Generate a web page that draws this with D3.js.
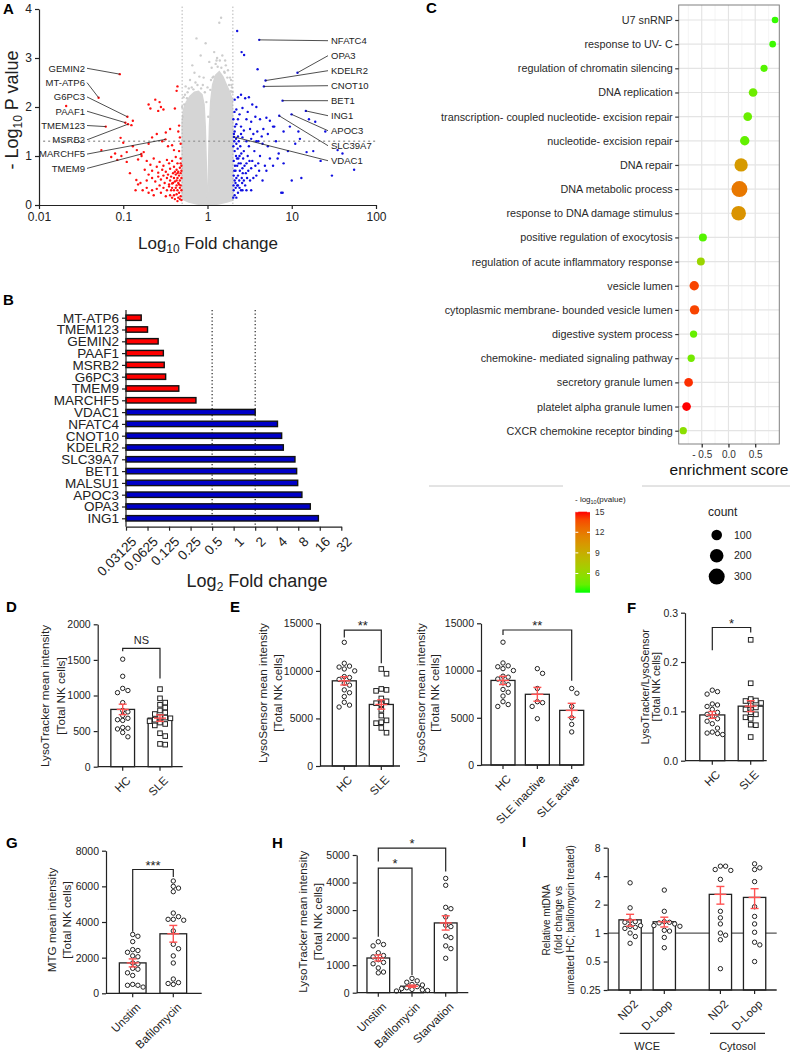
<!DOCTYPE html>
<html><head><meta charset="utf-8">
<script src="https://cdn.jsdelivr.net/npm/d3@7"></script>
<style>
body{margin:0;background:#fff;}
svg{font-family:"Liberation Sans",Arial,sans-serif;display:block;background:#fff;}
</style></head><body>
<svg id="fig" width="794" height="1053"></svg>
<script>
/* ---------- data: A volcano (fold change, -log10 p) ---------- */
var grayCloud = [[0.5,0.12],[0.5,1.0],[0.5,1.7],[0.52,1.95],[0.56,2.1],[0.62,2.22],[0.7,2.3],[0.78,2.32],[0.86,2.25],[0.91,2.05],[0.94,1.6],[0.965,0.9],[0.98,0.35],[0.99,0.08],[1.01,0.08],[1.02,0.4],[1.035,1.0],[1.055,1.6],[1.09,2.1],[1.15,2.45],[1.25,2.65],[1.38,2.72],[1.52,2.62],[1.68,2.45],[1.84,2.3],[1.97,2.15],[2.0,1.6],[2.0,0.6],[2.0,0.1],[1.7,0.06],[1.35,0.02],[1.1,0.0],[0.9,0.0],[0.75,0.02],[0.6,0.06]];
var grayPts = [[0.74,3.4],[1.45,3.82],[1.38,3.72],[0.83,3.05],[0.95,3.3],[1.2,3.12],[1.05,2.92],[1.3,3.0],[1.62,2.95],[0.7,2.7],[0.62,2.55],[0.55,2.42],[0.9,2.6],[1.75,2.75],[1.9,2.55],[0.6,2.38],[1.12,2.8],[1.5,3.05],[0.66,2.85],[0.8,2.62],[1.25,2.88],[1.6,2.7],[1.95,2.4],[0.52,2.2],[0.58,2.3],[1.85,2.6],[0.88,2.45],[0.97,2.1],[1.02,1.8],[1.4,2.95],[0.72,2.5],[1.15,2.6],[0.53,2.05],[1.98,2.3],[1.92,2.45],[0.51,1.8],
  [0.54,2.25],[0.65,2.4],[0.76,2.45],[0.84,2.38],[0.93,2.3],[1.08,2.35],[1.18,2.62],[1.32,2.82],[1.46,2.8],[1.58,2.72],[1.72,2.6],[1.8,2.45],[1.9,2.32],[0.5,2.0],[0.57,2.18],[0.68,2.36],[1.0,2.4],[1.1,2.55],[1.65,2.85],[1.28,2.95]];
var redPts = [[0.021,2.02],[0.13,1.72],[0.125,1.63],[0.093,1.37],[0.10,1.27],[0.055,1.12],[0.072,0.98],[0.08,1.05],[0.085,0.92],[0.095,1.0],[0.11,1.08],[0.13,1.2],[0.145,1.12],[0.165,1.0],[0.175,1.08],[0.15,0.93],[0.12,0.65],[0.143,0.51],[0.11,0.88],
  [0.2,2.05],[0.21,1.97],[0.24,2.15],[0.26,1.92],[0.27,2.1],[0.28,2.0],[0.3,1.95],[0.43,2.33],[0.44,2.42],[0.41,1.97],[0.46,1.62],[0.45,1.5],[0.47,1.38],[0.36,1.55],[0.32,1.48],[0.25,1.45],[0.22,1.38],[0.29,1.3],[0.2,1.25],[0.34,1.2],[0.38,1.22],[0.4,1.12],[0.48,1.25],[0.46,1.1],
  [0.19,0.9],[0.21,0.82],[0.23,0.95],[0.25,0.78],[0.27,0.88],[0.3,0.8],[0.33,0.92],[0.35,0.85],[0.38,0.9],[0.42,0.98],[0.44,0.85],[0.48,0.95],[0.18,0.72],[0.2,0.62],[0.22,0.7],[0.26,0.66],[0.29,0.72],[0.32,0.68],[0.36,0.74],[0.4,0.78],[0.43,0.72],[0.47,0.76],
  [0.16,0.45],[0.19,0.5],[0.22,0.55],[0.24,0.48],[0.26,0.58],[0.28,0.52],[0.3,0.6],[0.31,0.45],[0.33,0.55],[0.34,0.62],[0.36,0.5],[0.37,0.58],[0.38,0.44],[0.39,0.65],[0.4,0.55],[0.41,0.48],[0.42,0.62],[0.43,0.4],[0.44,0.55],[0.45,0.68],[0.45,0.45],[0.46,0.6],[0.47,0.5],[0.48,0.4],[0.49,0.55],[0.49,0.3],[0.48,0.65],[0.47,0.35],[0.46,0.25],[0.44,0.3],[0.42,0.35],[0.4,0.3],[0.38,0.35],[0.35,0.38],[0.33,0.3],[0.3,0.35],[0.27,0.4],[0.25,0.33],[0.36,0.2],[0.4,0.2],[0.43,0.22],[0.45,0.15],[0.48,0.18],[0.49,0.1],[0.47,0.12],[0.44,0.08],[0.41,0.12],[0.38,0.15],[0.32,0.18],[0.28,0.25],[0.49,0.7],[0.49,0.8],[0.48,0.85],[0.35,0.42],[0.37,0.3],[0.39,0.45],[0.43,0.5],[0.41,0.68],[0.46,0.42],[0.44,0.65],[0.14,0.3],[0.15,0.42],[0.17,0.3],[0.19,0.35],[0.2,0.25],[0.22,0.3],[0.23,0.2]];
var bluePts = [[2.25,3.55],[2.54,3.12],[2.72,3.06],[3.93,2.77],[2.1,2.15],[2.3,2.2],[2.5,2.25],[2.8,2.18],[3.1,2.2],[3.4,2.05],[3.8,2.0],[2.2,1.95],[2.6,1.98],[3.0,1.9],[2.4,1.85],[2.9,1.75],[3.3,1.7],[3.7,1.8],[4.2,1.75],[5.0,1.78],[5.5,1.72],[6.0,1.6],[4.6,1.55],[3.9,1.5],[2.2,1.65],[2.5,1.6],[2.7,1.52],[3.2,1.55],[3.5,1.45],[2.1,1.5],[2.3,1.4],[2.6,1.38],[2.9,1.3],[3.3,1.35],[4.0,1.3],[4.5,1.25],[5.2,1.2],[6.5,1.3],[8.0,1.5],[9.5,1.6],[12.0,1.5],[16.0,1.75],[19.0,1.7],[25.0,1.5],[40.0,1.05],[35.0,1.12],[15.0,1.08],[18,1.1],[22,0.9],[30,0.6],[55,0.72],[13,0.55],[10,0.5],[7.5,0.25],[8,0.85],[6.8,0.95],[9,1.1],[11,1.25],[12.5,1.35],[7,1.05],[5.5,0.95],[6,0.8],[5,0.7],
  [2.05,0.3],[2.1,0.5],[2.15,0.7],[2.05,0.9],[2.1,1.1],[2.2,1.25],[2.25,0.4],[2.3,0.6],[2.35,0.85],[2.4,1.0],[2.45,1.2],[2.5,0.3],[2.55,0.55],[2.6,0.75],[2.65,0.95],[2.7,1.1],[2.8,0.4],[2.85,0.65],[2.9,0.85],[3.0,1.0],[3.1,1.2],[3.2,0.5],[3.3,0.75],[3.4,0.9],[3.6,1.1],[3.8,0.6],[4.0,0.85],[4.2,1.0],[4.5,0.5],[4.8,0.8],[2.02,0.15],[2.1,0.2],[2.2,0.15],[2.3,0.25],[2.05,0.6],[2.12,0.8],[2.18,1.0],[2.28,1.15],[2.08,1.3],[2.15,0.45],[2.2,0.55],[2.25,0.8],[2.32,0.95],[2.38,0.5],[2.42,0.7],[2.48,0.85],[2.52,1.05],[2.58,0.45],[2.62,0.65],[2.7,0.5],[2.75,0.8],[2.95,0.55],[3.05,0.7],[3.15,0.9],[3.5,0.55],[3.7,0.8],[4.1,0.7],[2.03,1.2],[2.06,1.45],[2.12,1.6],[2.18,1.35],[2.35,1.3],[2.5,1.45],[2.04,0.4],[2.08,0.7],[2.16,0.35],[2.24,0.95],[2.3,0.4],[2.4,0.35],[2.6,0.3],[2.9,0.3],[7.8,0.25],[3.3,0.3],[4.4,1.4],[5.2,1.45],[6.2,1.6],[3.8,1.3],[2.03,1.75],[2.09,1.9],[2.3,1.75]];
// labelled genes: name, fold change, -log10 p
var labelsDown = [["GEMIN2",0.091,2.67],["MT-ATP6",0.051,2.19],["G6PC3",0.112,1.80],["PAAF1",0.106,1.68],["TMEM123",0.062,1.60],["MSRB2",0.114,1.65],["MARCHF5",0.317,1.34],["TMEM9",0.164,1.04]];
var labelsUp = [["NFATC4",4.11,3.37],["OPA3",11.7,2.70],["KDELR2",4.89,2.54],["CNOT10",4.67,2.42],["BET1",7.78,2.13],["ING1",14.7,1.92],["APOC3",9.95,1.85],["SLC39A7",7.1,1.82],["VDAC1",2.06,1.39]];
var xTicksA = [0.01,0.1,1,10,100];

/* ---------- data: B ---------- */
var genesB = ["MT-ATP6","TMEM123","GEMIN2","PAAF1","MSRB2","G6PC3","TMEM9","MARCHF5","VDAC1","NFATC4","CNOT10","KDELR2","SLC39A7","BET1","MALSU1","APOC3","OPA3","ING1"];
var foldB = [0.051,0.0625,0.088,0.104,0.107,0.112,0.171,0.297,2.0,4.1,4.69,4.95,7.2,7.6,7.86,9.0,11.8,15.3];
var xTicksB = [0.03125,0.0625,0.125,0.25,0.5,1,2,4,8,16,32];

/* ---------- data: C ---------- */
var termsC = ["U7 snRNP","response to UV- C","regulation of chromatin silencing","DNA replication","transcription- coupled nucleotide- excision repair","nucleotide- excision repair","DNA repair","DNA metabolic process","response to DNA damage stimulus","positive regulation of exocytosis","regulation of acute inflammatory response","vesicle lumen","cytoplasmic membrane- bounded vesicle lumen","digestive system process","chemokine- mediated signaling pathway","secretory granule lumen","platelet alpha granule lumen","CXCR chemokine receptor binding"];
var enrichC = [0.87,0.826,0.665,0.46,0.36,0.304,0.236,0.205,0.19,-0.478,-0.516,-0.64,-0.634,-0.652,-0.696,-0.745,-0.783,-0.845];
var logpC = [3.5,3.6,4.0,4.6,4.5,4.3,10.2,12.0,10.6,4.0,6.3,14.0,14.0,4.4,4.8,14.5,15.0,5.6];
var countC = [5,5,15,49,49,67,191,300,243,33,33,67,67,19,19,49,49,19];
var xTicksC = [-0.5,0,0.5];
var legendP = [6,9,12,15];
var legendCount = [100,200,300];

/* ---------- data: D-I ---------- */
var dHC = [1510,1270,1100,1070,1040,900,790,770,720,680,660,650,550,540,530,480,420];
var dSLE = [1090,960,900,870,830,790,760,740,700,690,680,660,640,620,600,580,470,430,320,310];
var eHC = [13000,10800,10500,10400,10200,10000,9400,9300,9100,8700,8500,8000,7700,7300,6700,6400,6200];
var eSLE = [10200,9700,8100,8000,7900,7100,6800,6600,6500,5900,5300,4800,4600,4500,4000,3500];
var eInactive = [10200,9700,8100,6700,6600,6200,4900];
var eActive = [8100,7600,6200,5000,4300,3500];
var fHC = [0.143,0.14,0.135,0.115,0.113,0.11,0.104,0.098,0.094,0.09,0.085,0.08,0.075,0.066,0.058,0.056,0.055,0.053];
var fSLE = [0.245,0.157,0.125,0.122,0.121,0.117,0.112,0.108,0.104,0.098,0.094,0.088,0.085,0.073,0.072,0.048];
var gUnstim = [3300,3200,2900,2450,2400,2300,2100,2050,1700,1650,1400,1350,1150,1000,500,450,450,350];
var gBaf = [6300,6000,5900,5700,4500,4300,4150,4150,4100,3500,2750,2500,2100,1700,800,600,550,500];
var hUnstim = [1850,1750,1700,1450,1350,1300,1200,1100,1050,900,750,720];
var hBaf = [520,430,380,300,280,220,180,150,120,100,80,60];
var hStarv = [4150,3900,3100,3050,2750,2450,2400,2050,2000,1700,1600,1250];
var iWceND2 = [3.4,1.85,1.35,1.32,1.3,1.2,1.18,1.15,1.12,1.0,0.92,0.78];
var iWceDL = [2.85,1.7,1.32,1.3,1.28,1.25,1.2,1.18,1.07,1.05,0.9,0.7];
var iCytND2 = [5.1,5.1,4.7,4.6,3.7,1.7,1.45,1.25,1.0,0.95,0.85,0.42];
var iCytDL = [5.4,4.9,4.7,3.5,1.9,1.5,1.25,1.02,0.8,0.75,0.5];

var svg = d3.select("#fig");
var ink = "#222";
var FONT = "Liberation Sans, Arial, sans-serif";

function letter(t, x, y){
    svg.append("text").attr("x",x).attr("y",y).text(t)
        .style("font-size","15px").style("font-weight","bold").style("fill","#000");
}
function styleAxis(sel, fs){
    sel.attr("font-family",FONT).attr("font-size",fs);
    sel.selectAll("path,line").style("stroke",ink).style("stroke-width",1.2);
    sel.selectAll("text").style("fill",ink);
}

/* ================= Panel A ================= */
var gA = svg.append("g");
var xA = d3.scaleLog().domain([0.01,100]).range([39,376]);
var yA = d3.scaleLinear().domain([0,4]).range([205,9]);
var lineA = d3.line().x(function(d){return xA(d[0]);}).y(function(d){return yA(d[1]);});
gA.append("path").attr("d", lineA(grayCloud)+"Z")
    .style("fill","#d5d5d5").style("stroke","#d5d5d5").style("stroke-width",1.5);
gA.selectAll(".gp").data(grayPts).join("circle")
    .attr("cx",function(d){return xA(d[0]);}).attr("cy",function(d){return yA(d[1]);})
    .attr("r",1.2).style("fill","#cdcdcd");
[0.5,2].forEach(function(v){
    gA.append("line").attr("x1",xA(v)).attr("x2",xA(v)).attr("y1",yA(4.05)).attr("y2",yA(0))
        .style("stroke","#b5b5b5").style("stroke-dasharray","1.5,2");
});
gA.append("line").attr("x1",xA(0.0112)).attr("x2",xA(98)).attr("y1",yA(1.3)).attr("y2",yA(1.3))
    .style("stroke","#a0a0a0").style("stroke-width",1.4).style("stroke-dasharray","2,3");
var allRed = redPts.concat(labelsDown.map(function(d){return [d[1],d[2]];}));
var allBlue = bluePts.concat(labelsUp.map(function(d){return [d[1],d[2]];}));
gA.selectAll(".rp").data(allRed).join("circle")
    .attr("cx",function(d){return xA(d[0]);}).attr("cy",function(d){return yA(d[1]);})
    .attr("r",1.2).style("fill","#ff1010");
gA.selectAll(".bp").data(allBlue).join("circle")
    .attr("cx",function(d){return xA(d[0]);}).attr("cy",function(d){return yA(d[1]);})
    .attr("r",1.2).style("fill","#1010e0");

gA.append("g").attr("transform","translate(39,0)")
    .call(d3.axisLeft(yA).ticks(4).tickFormat(d3.format("d")).tickSize(4).tickSizeOuter(0))
    .call(styleAxis, 12);
gA.append("g").attr("transform","translate(0,205)")
    .call(d3.axisBottom(xA).tickValues(xTicksA).tickFormat(function(d){return String(d);}).tickSize(4).tickSizeOuter(0))
    .call(styleAxis, 12);

labelsDown.forEach(function(d,i){
    var ty = 68.3 + i*14.3;
    gA.append("line").attr("x1",87).attr("y1",ty).attr("x2",xA(d[1])).attr("y2",yA(d[2]))
        .style("stroke",ink).style("stroke-width",0.8);
    gA.append("text").attr("x",85).attr("y",ty).attr("dy","0.35em").attr("text-anchor","end")
        .style("font-size","9.5px").style("fill",ink).text(d[0]);
});
labelsUp.forEach(function(d,i){
    var ty = 40.7 + i*15;
    gA.append("line").attr("x1",328).attr("y1",ty).attr("x2",xA(d[1])).attr("y2",yA(d[2]))
        .style("stroke",ink).style("stroke-width",0.8);
    gA.append("text").attr("x",331).attr("y",ty).attr("dy","0.35em")
        .style("font-size","9.5px").style("fill",ink).text(d[0]);
});
var tA = gA.append("text").attr("transform","translate(18,110) rotate(-90)").attr("text-anchor","middle")
    .style("font-size","18px").style("fill",ink);
tA.append("tspan").text("- Log");
tA.append("tspan").attr("dy",4).style("font-size","12px").text("10");
tA.append("tspan").attr("dy",-4).text(" P value");
var tAx = gA.append("text").attr("x",208).attr("y",249).attr("text-anchor","middle")
    .style("font-size","17px").style("fill",ink);
tAx.append("tspan").text("Log");
tAx.append("tspan").attr("dy",4).style("font-size","12px").text("10");
tAx.append("tspan").attr("dy",-4).text(" Fold change");
letter("A",3,14);

/* ================= Panel B ================= */
var gB = svg.append("g");
var yB = d3.scalePoint().domain(genesB).range([317.7,518.3]);
var xB = d3.scaleLog().base(2).domain([0.03125,32]).range([126,341.3]);
[0.5,2].forEach(function(v){
    gB.append("line").attr("x1",xB(v)).attr("x2",xB(v)).attr("y1",310).attr("y2",526.7)
        .style("stroke","#111").style("stroke-width",1.1).style("stroke-dasharray","1.3,2.2");
});
gB.selectAll(".bar").data(genesB).join("rect")
    .attr("x",xB(0.03125)).attr("y",function(d){return yB(d)-2.7;})
    .attr("width",function(d,i){return xB(foldB[i])-xB(0.03125);}).attr("height",5.4)
    .style("fill",function(d,i){return foldB[i]<1?"#ff0000":"#0000c8";})
    .style("stroke","#111").style("stroke-width",1.4);
var axBy = gB.append("g").attr("transform","translate(126,0)")
    .call(d3.axisLeft(yB).tickSize(4)).call(styleAxis,13.5);
axBy.select(".domain").remove();
gB.append("line").attr("x1",126).attr("x2",126).attr("y1",310).attr("y2",526.7).style("stroke",ink).style("stroke-width",1.2);
var axBx = gB.append("g").attr("transform","translate(0,526.7)")
    .call(d3.axisBottom(xB).tickValues(xTicksB).tickFormat(function(d){return String(d);}).tickSize(4).tickSizeOuter(0))
    .call(styleAxis,13.5);
axBx.selectAll("text").attr("text-anchor","end").attr("dominant-baseline","hanging")
    .attr("x",0).attr("y",0).attr("dy",null)
    .attr("transform","translate(4,9) rotate(-45)");
var tB = gB.append("text").attr("x",257).attr("y",587).attr("text-anchor","middle")
    .style("font-size","18px").style("fill",ink);
tB.append("tspan").text("Log");
tB.append("tspan").attr("dy",4).style("font-size","12px").text("2");
tB.append("tspan").attr("dy",-4).text(" Fold change");
letter("B",3,305);

/* ================= Panel C ================= */
var gC = svg.append("g");
var xC = d3.scaleLinear().domain([-0.93,0.95]).range([678.7,779.3]);
var yC = d3.scalePoint().domain(termsC).range([20,430.7]);
var colC = d3.scaleLinear().domain([3.2,15]).range(["#00ff00","#ff0000"]).interpolate(d3.interpolateLab);
var areaC = d3.scaleLinear().domain([0,300]).range([10,64]);
gC.append("rect").attr("x",678.7).attr("y",5).attr("width",100.6).attr("height",439).style("fill","#fff");
[-0.75,-0.25,0.25,0.75].forEach(function(v){
    gC.append("line").attr("x1",xC(v)).attr("x2",xC(v)).attr("y1",5).attr("y2",444).style("stroke","#f1f1f1").style("stroke-width",0.7);
});
xTicksC.forEach(function(v){
    gC.append("line").attr("x1",xC(v)).attr("x2",xC(v)).attr("y1",5).attr("y2",444).style("stroke","#e4e4e4").style("stroke-width",1.2);
});
termsC.forEach(function(t){
    gC.append("line").attr("x1",678.7).attr("x2",779.3).attr("y1",yC(t)).attr("y2",yC(t)).style("stroke","#e4e4e4").style("stroke-width",1.2);
});
gC.append("rect").attr("x",678.7).attr("y",5).attr("width",100.6).attr("height",439)
    .style("fill","none").style("stroke","#808080").style("stroke-width",1);
gC.selectAll(".dot").data(termsC).join("circle")
    .attr("cx",function(d,i){return xC(enrichC[i]);}).attr("cy",function(d){return yC(d);})
    .attr("r",function(d,i){return Math.sqrt(areaC(countC[i]));})
    .style("fill",function(d,i){return colC(logpC[i]);});
var axCy = gC.append("g").attr("transform","translate(678.7,0)")
    .call(d3.axisLeft(yC).tickSize(3.5).tickPadding(2.5)).call(styleAxis,10.8);
axCy.select(".domain").remove();
axCy.selectAll("line").style("stroke","#333");
axCy.selectAll("text").style("fill","#2a2a2a");
var axCx = gC.append("g").attr("transform","translate(0,444)")
    .call(d3.axisBottom(xC).tickValues(xTicksC).tickSize(3.5)
        .tickFormat(function(d){return d<0?"- "+Math.abs(d).toFixed(1):d.toFixed(1);}))
    .call(styleAxis,10);
axCx.select(".domain").remove();
axCx.selectAll("text").style("fill","#333");
gC.append("text").attr("x",729).attr("y",475).attr("text-anchor","middle")
    .style("font-size","15.5px").style("fill","#111").text("enrichment score");
letter("C",426,13);
// separators
gC.append("line").attr("x1",429).attr("x2",563).attr("y1",486).attr("y2",486).style("stroke","#c8c8c8");
gC.append("line").attr("x1",642).attr("x2",790).attr("y1",486).attr("y2",486).style("stroke","#c8c8c8");
// colour legend
var defs = svg.append("defs");
var grad = defs.append("linearGradient").attr("id","pgrad").attr("x1",0).attr("y1",1).attr("x2",0).attr("y2",0);
d3.range(0,1.0001,0.1).forEach(function(t){
    grad.append("stop").attr("offset",t).attr("stop-color",colC(3.2+t*11.8));
});
var yBar = d3.scaleLinear().domain([3.2,15]).range([592.7,511.7]);
gC.append("rect").attr("x",575.3).attr("y",yBar(15)).attr("width",14.7).attr("height",yBar(3.2)-yBar(15))
    .style("fill","url(#pgrad)");
legendP.forEach(function(v){
    gC.append("line").attr("x1",575.3).attr("x2",578.3).attr("y1",yBar(v)).attr("y2",yBar(v)).style("stroke","#fff");
    gC.append("line").attr("x1",587).attr("x2",590).attr("y1",yBar(v)).attr("y2",yBar(v)).style("stroke","#fff");
    gC.append("text").attr("x",595).attr("y",yBar(v)).attr("dy","0.35em").style("font-size","8.5px").style("fill","#333").text(v);
});
var tP = gC.append("text").attr("x",575).attr("y",502).style("font-size","8px").style("fill","#222");
tP.append("tspan").text("- log");
tP.append("tspan").attr("dy",2).style("font-size","5.5px").text("10");
tP.append("tspan").attr("dy",-2).text("(pvalue)");
gC.append("text").attr("x",708).attr("y",516).style("font-size","12px").style("fill","#222").text("count");
legendCount.forEach(function(v,i){
    var cy = 535 + i*20.8;
    gC.append("circle").attr("cx",716.7).attr("cy",cy).attr("r",Math.sqrt(areaC(v))).style("fill","#000");
    gC.append("text").attr("x",734).attr("y",cy).attr("dy","0.35em").style("font-size","10.5px").style("fill","#222").text(v);
});

/* ================= Panels D-I ================= */
function dotBarPanel(o){
    var g = svg.append("g");
    var y = o.y, bottom = y.range()[0];
    var dx = 5.2;
    if (o.refLine !== undefined){
        g.append("line").attr("x1",o.axisX).attr("x2",o.axisXEnd).attr("y1",y(o.refLine)).attr("y2",y(o.refLine))
            .style("stroke","#555").style("stroke-width",1.1);
    }
    o.groups.forEach(function(gr){
        var cx = o.x(gr.key), vals = gr.values;
        var mean = d3.mean(vals), sem = d3.deviation(vals)/Math.sqrt(vals.length);
        g.append("rect").attr("x",cx-o.barW/2).attr("y",y(mean)).attr("width",o.barW).attr("height",bottom-y(mean))
            .style("fill","#fff").style("stroke",ink).style("stroke-width",1.3);
        // simple beeswarm around the group centre
        var placed = [];
        vals.slice().sort(function(a,b){return b-a;}).forEach(function(v){
            var py = y(v), px = cx;
            for (var i=0;i<40;i++){
                var off = (i%2===1?1:-1)*Math.ceil(i/2)*dx;
                var hit = placed.some(function(p){return Math.hypot(p[0]-(cx+off),p[1]-py) < dx*0.95;});
                if (!hit){ px = cx+off; break; }
            }
            placed.push([px,py]);
        });
        placed.forEach(function(p){
            if (gr.shape==="square"){
                g.append("rect").attr("x",p[0]-2.3).attr("y",p[1]-2.3).attr("width",4.6).attr("height",4.6)
                    .style("fill","#fff").style("stroke",ink).style("stroke-width",1);
            } else {
                g.append("circle").attr("cx",p[0]).attr("cy",p[1]).attr("r",2.2)
                    .style("fill","#fff").style("stroke",ink).style("stroke-width",1);
            }
        });
        var red = "#ff5252";
        var lo = y(mean-sem), hi = y(mean+sem);
        g.append("line").attr("x1",cx).attr("x2",cx).attr("y1",lo).attr("y2",hi).style("stroke",red).style("stroke-width",1.4);
        g.append("line").attr("x1",cx-4).attr("x2",cx+4).attr("y1",lo).attr("y2",lo).style("stroke",red).style("stroke-width",1.4);
        g.append("line").attr("x1",cx-4).attr("x2",cx+4).attr("y1",hi).attr("y2",hi).style("stroke",red).style("stroke-width",1.4);
        g.append("line").attr("x1",cx-6).attr("x2",cx+6).attr("y1",y(mean)).attr("y2",y(mean)).style("stroke",red).style("stroke-width",1.4);
        // x tick + label
        g.append("line").attr("x1",cx).attr("x2",cx).attr("y1",bottom).attr("y2",bottom+4).style("stroke",ink).style("stroke-width",1.2);
        g.append("text").attr("transform","translate("+(cx+3)+","+(bottom+9)+") rotate(-45)")
            .attr("text-anchor","end").attr("dominant-baseline","hanging")
            .style("font-size","11.5px").style("fill",ink).text(gr.label || gr.key);
    });
    g.append("line").attr("x1",o.axisX).attr("x2",o.axisXEnd).attr("y1",bottom).attr("y2",bottom)
        .style("stroke",ink).style("stroke-width",1.3);
    g.append("g").attr("transform","translate("+o.axisX+",0)")
        .call(d3.axisLeft(y).tickValues(o.ticks).tickFormat(o.fmt).tickSize(4).tickSizeOuter(0))
        .call(styleAxis,10.5);
    o.ylab.forEach(function(t,i){
        g.append("text").attr("transform","translate("+o.ylabX[i]+","+o.ylabY+") rotate(-90)")
            .attr("text-anchor","middle").attr("dy","0.35em")
            .style("font-size",(o.ylabSize||11.7)+"px").style("fill",ink).text(t);
    });
    (o.brackets||[]).forEach(function(b){
        var xa = o.x(b.a), xb = o.x(b.b);
        g.append("path").attr("d","M"+xa+","+y(b.ya)+"V"+y(b.y)+"H"+xb+"V"+y(b.yb))
            .style("fill","none").style("stroke",ink).style("stroke-width",1.2);
        g.append("text").attr("x",(xa+xb)/2).attr("y",y(b.y)-(b.t.charAt(0)==="*"?0:4))
            .attr("text-anchor","middle").style("font-size",b.t.charAt(0)==="*"?"13px":"11px")
            .style("fill",ink).text(b.t);
    });
    return g;
}

// D
dotBarPanel({
    y: d3.scaleLinear().domain([0,2000]).range([766.7,624.3]),
    x: d3.scalePoint().domain(["HC","SLE"]).range([122.7,160]),
    axisX:97.7, axisXEnd:182.7, barW:23.7, ticks:[0,500,1000,1500,2000], fmt:String,
    ylab:["LysoTracker mean intensity","[Total NK cells]"], ylabX:[45,61], ylabY:696,
    groups:[{key:"HC",values:dHC,shape:"circle"},{key:"SLE",values:dSLE,shape:"square"}],
    brackets:[{a:"HC",b:"SLE",y:1662,ya:1620,yb:1240,t:"NS"}]
});
letter("D",6,612);
// E left
dotBarPanel({
    y: d3.scaleLinear().domain([0,15000]).range([766,623.3]),
    x: d3.scalePoint().domain(["HC","SLE"]).range([344.3,381.3]),
    axisX:320, axisXEnd:400, barW:24, ticks:[0,5000,10000,15000], fmt:String,
    ylab:["LysoSensor mean intensity","[Total NK cells]"], ylabX:[263,278], ylabY:693,
    groups:[{key:"HC",values:eHC,shape:"circle"},{key:"SLE",values:eSLE,shape:"square"}],
    brackets:[{a:"HC",b:"SLE",y:14286,ya:13520,yb:10790,t:"**"}]
});
letter("E",230,612);
// E right
dotBarPanel({
    y: d3.scaleLinear().domain([0,15000]).range([765,623.3]),
    x: d3.scalePoint().domain(["HC","SLE inactive","SLE active"]).range([503,571.7]),
    axisX:481, axisXEnd:582.7, barW:24, ticks:[0,5000,10000,15000], fmt:String,
    ylab:["LysoSensor mean intensity","[Total NK cells]"], ylabX:[420.7,435], ylabY:693,
    groups:[{key:"HC",values:eHC,shape:"circle"},{key:"SLE inactive",values:eInactive,shape:"circle"},{key:"SLE active",values:eActive,shape:"circle"}],
    brackets:[{a:"HC",b:"SLE active",y:14290,ya:13760,yb:8930,t:"**"}]
});
// F
dotBarPanel({
    y: d3.scaleLinear().domain([0,0.3]).range([760.7,612.7]),
    x: d3.scalePoint().domain(["HC","SLE"]).range([712.3,750.7]),
    axisX:685, axisXEnd:766.7, barW:25, ticks:[0,0.1,0.2,0.3], fmt:d3.format(".1f"),
    ylab:["LysoTracker/LysoSensor","[Total NK cells]"], ylabX:[645,656.7], ylabY:686.7, ylabSize:10.5,
    groups:[{key:"HC",values:fHC,shape:"circle"},{key:"SLE",values:fSLE,shape:"square"}],
    brackets:[{a:"HC",b:"SLE",y:0.27,ya:0.224,yb:0.26,t:"*"}]
});
letter("F",627,613);
// G
dotBarPanel({
    y: d3.scaleLinear().domain([0,8000]).range([993.3,850.7]),
    x: d3.scalePoint().domain(["Unstim","Bafilomycin"]).range([132.7,173.3]),
    axisX:106, axisXEnd:201.7, barW:26.7, ticks:[0,2000,4000,6000,8000], fmt:String,
    ylab:["MTG mean intensity","[Total NK cells]"], ylabX:[51.7,66.7], ylabY:920,
    groups:[{key:"Unstim",values:gUnstim,shape:"circle"},{key:"Bafilomycin",values:gBaf,shape:"circle"}],
    brackets:[{a:"Unstim",b:"Bafilomycin",y:6944,ya:3450,yb:6530,t:"***"}]
});
letter("G",6,848);
// H
dotBarPanel({
    y: d3.scaleLinear().domain([0,5000]).range([992.7,855]),
    x: d3.scalePoint().domain(["Unstim","Bafilomycin","Starvation"]).range([378.3,445.7]),
    axisX:356.7, axisXEnd:468.3, barW:22.7, ticks:[0,1000,2000,3000,4000,5000], fmt:String,
    ylab:["LysoTracker mean intensity","[Total NK cells]"], ylabX:[303.3,318.3], ylabY:921.7,
    groups:[{key:"Unstim",values:hUnstim,shape:"circle"},{key:"Bafilomycin",values:hBaf,shape:"circle"},{key:"Starvation",values:hStarv,shape:"circle"}],
    brackets:[{a:"Unstim",b:"Starvation",y:5250,ya:4763,yb:4400,t:"*"},
              {a:"Unstim",b:"Bafilomycin",y:4524,ya:2036,yb:644,t:"*"}]
});
letter("H",272,848);
// I
var xOuterI = d3.scalePoint().domain(["WCE","Cytosol"]).range([647.2,737.5]);
var xInnerI = d3.scalePoint().domain(["ND2","D-Loop"]).range([-17.1,17.1]);
var xI = function(k){ var p = k.split("|"); return xOuterI(p[0]) + xInnerI(p[1]); };
dotBarPanel({
    y: d3.scaleLog().base(2).domain([0.25,8]).range([990,847.7]),
    x: xI, refLine: 1,
    axisX:607.7, axisXEnd:776.7, barW:22.3, ticks:[0.25,0.5,1,2,4,8], fmt:String,
    ylab:["Relative mtDNA","(fold change vs","unreated HC; bafilomycin treated)"], ylabX:[546.5,558.5,570.5], ylabY:920, ylabSize:10,
    groups:[{key:"WCE|ND2",label:"ND2",values:iWceND2,shape:"circle"},{key:"WCE|D-Loop",label:"D-Loop",values:iWceDL,shape:"circle"},
            {key:"Cytosol|ND2",label:"ND2",values:iCytND2,shape:"circle"},{key:"Cytosol|D-Loop",label:"D-Loop",values:iCytDL,shape:"circle"}]
});
xOuterI.domain().forEach(function(k){
    var cx = xOuterI(k);
    svg.append("line").attr("x1",cx-27.5).attr("x2",cx+27.5).attr("y1",1033.3).attr("y2",1033.3).style("stroke",ink).style("stroke-width",1.3);
    svg.append("text").attr("x",cx).attr("y",1050).attr("text-anchor","middle").style("font-size","11px").style("fill",ink).text(k);
});
letter("I",522,847);
</script></body></html>
